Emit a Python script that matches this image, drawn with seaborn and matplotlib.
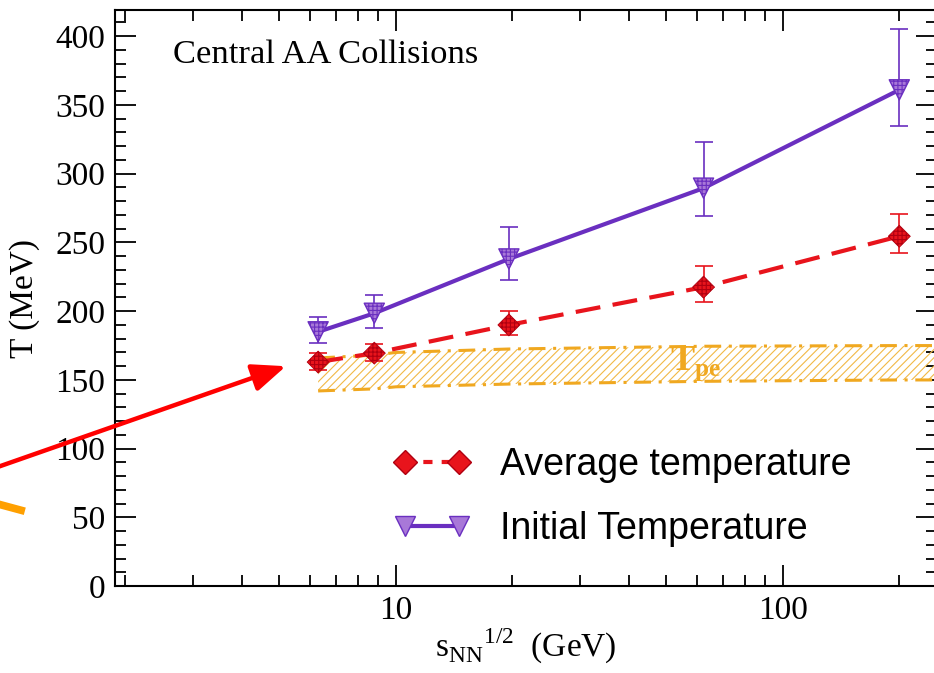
import numpy as np
import seaborn as sns
import matplotlib.pyplot as plt
from matplotlib.lines import Line2D
from matplotlib.ticker import LogLocator, FixedLocator, NullFormatter

# collision energies (GeV)
sqrt_s = [6.3, 8.8, 19.6, 62.4, 200]

# initial temperature (MeV) with error band edges
t_init = [185, 198.5, 238, 289.5, 361]
t_init_hi = [196, 212, 261, 323, 405]
t_init_lo = [177, 188, 222.5, 269, 334.5]

# average temperature (MeV)
t_avg = [163, 169.5, 190, 217.5, 254.5]
t_avg_hi = [169.5, 176.5, 200.5, 233, 271]
t_avg_lo = [157, 164, 182.5, 207, 242]

# pseudo-critical temperature band
band_x = [6.3, 8.8, 10, 19.6, 62.4, 200, 250]
band_hi = [166, 168, 170, 172.5, 174.5, 175, 175]
band_lo = [142, 143.5, 145, 147, 149, 150, 150]

RED = '#e8141c'
RED_DARK = '#b00010'
PURPLE = '#6a2fc0'
PURPLE_FACE = '#a878d8'
ORANGE = '#f0a820'

sns.set_theme(style='ticks')
plt.rcParams['font.family'] = ['Liberation Serif', 'DejaVu Serif']
plt.rcParams['mathtext.fontset'] = 'custom'
plt.rcParams['mathtext.rm'] = 'Liberation Serif'
plt.rcParams['mathtext.bf'] = 'Liberation Serif:bold'
plt.rcParams['hatch.linewidth'] = 0.8
for key in ['text.color', 'axes.labelcolor', 'xtick.color', 'ytick.color']:
    plt.rcParams[key] = 'black'

fig = plt.figure(figsize=(9.34, 6.73), dpi=100)
ax = fig.add_axes([0.123, 0.129, 0.880, 0.856])
ax.set_xscale('log')

# Tpe band
ax.fill_between(band_x, band_lo, band_hi, facecolor='none', hatch='////',
                edgecolor='#f2b846', linewidth=0, zorder=1)
dashdot = (0, (5.5, 2.5, 1, 2.5))
sns.lineplot(x=band_x, y=band_hi, ax=ax, color=ORANGE, lw=2.2, linestyle=dashdot, sort=False, zorder=2)
sns.lineplot(x=band_x, y=band_lo, ax=ax, color=ORANGE, lw=2.2, linestyle=dashdot, sort=False, zorder=2)
ax.text(51, 162, r'$\mathbf{T}_{\mathbf{pe}}$', color=ORANGE, fontsize=26,
        ha='left', va='center', zorder=3)

# error bars
x = np.array(sqrt_s)
ti, ta = np.array(t_init), np.array(t_avg)
ax.errorbar(x, ti, yerr=[ti - np.array(t_init_lo), np.array(t_init_hi) - ti], fmt='none',
            ecolor=PURPLE, elinewidth=1.2, capsize=6.5, capthick=1.2, zorder=3)
ax.errorbar(x, ta, yerr=[ta - np.array(t_avg_lo), np.array(t_avg_hi) - ta], fmt='none',
            ecolor=RED, elinewidth=1.2, capsize=6.5, capthick=1.2, zorder=3)

# lines
sns.lineplot(x=sqrt_s, y=t_init, ax=ax, color=PURPLE, lw=3, sort=False, zorder=4)
sns.lineplot(x=sqrt_s, y=t_avg, ax=ax, color=RED, lw=3, linestyle=(0, (6, 3)), sort=False, zorder=4)

# markers
sns.scatterplot(x=sqrt_s, y=t_init, ax=ax, marker='v', s=210, color=PURPLE_FACE,
                edgecolor=PURPLE, linewidth=1.0, hatch='++++', zorder=5)
sns.scatterplot(x=sqrt_s, y=t_avg, ax=ax, marker='D', s=125, color=RED,
                edgecolor=RED_DARK, linewidth=0.6, hatch='++++', zorder=5)

ax.set_xlim(1.88, 250)
ax.set_ylim(0, 419)

ax.xaxis.set_major_locator(FixedLocator([10, 100]))
ax.xaxis.set_minor_locator(LogLocator(base=10, subs=np.arange(2, 10)))
ax.xaxis.set_minor_formatter(NullFormatter())
ax.set_xticklabels(['10', '100'])
ax.yaxis.set_major_locator(FixedLocator(np.arange(0, 401, 50)))
ax.yaxis.set_minor_locator(FixedLocator(np.arange(0, 420, 10)))

ax.tick_params(which='both', direction='in', top=True, right=True, labelsize=24, width=1.3)
ax.tick_params(which='major', length=15, pad=7)
ax.tick_params(which='minor', length=8)
for sp in ax.spines.values():
    sp.set_linewidth(1.5)
    sp.set_color('black')

ax.set_ylabel('T (MeV)', fontsize=24)
ax.yaxis.set_label_coords(-0.091, 0.5)
ax.set_xlabel(r'$\mathrm{s}_{\mathrm{NN}}{}^{\mathrm{1/2}}$  (GeV)', fontsize=24)
ax.xaxis.set_label_coords(0.5, -0.07)

ax.text(0.0706, 0.922, 'Central AA Collisions', transform=ax.transAxes,
        fontsize=24.8, ha='left', va='center')

# legend
handles = [
    Line2D([], [], color=RED, lw=3, linestyle=(0, (2.2, 2.2)), marker='D', markersize=12,
           markerfacecolor=RED, markeredgecolor=RED_DARK),
    Line2D([], [], color=PURPLE, lw=3, marker='v', markersize=15,
           markerfacecolor=PURPLE_FACE, markeredgecolor=PURPLE),
]
ax.legend(handles, ['Average temperature', 'Initial Temperature'], loc='center left',
          bbox_to_anchor=(0.339, 0.155), frameon=False, borderpad=0, borderaxespad=0,
          handlelength=2.05, handletextpad=0.78, labelspacing=0.75, numpoints=2,
          prop={'family': 'Liberation Sans', 'size': 27})

# arrows pointing at the band start
ax.annotate('', xy=(5.2, 160), xytext=(0.9, 85), annotation_clip=False,
            arrowprops=dict(arrowstyle='-|>,head_length=1.7,head_width=0.7',
                            color='#ff0000', lw=3.2, shrinkA=0, shrinkB=0))
ax.plot([0.85, 1.1], [63, 54.5], color='#ffa000', lw=5.5, clip_on=False, solid_capstyle='butt')

fig.savefig('out.png', dpi=100)
